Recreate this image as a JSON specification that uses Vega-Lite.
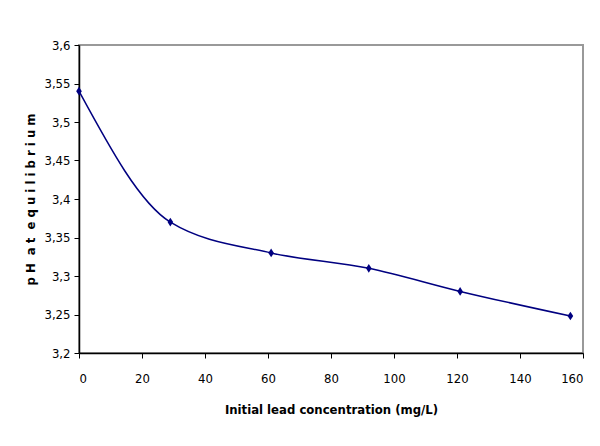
{
  "$schema": "https://vega.github.io/schema/vega-lite/v6.json",
  "width": 504,
  "height": 308,
  "autosize": {"type": "none"},
  "padding": {"left": 79, "top": 45, "right": 17, "bottom": 93},
  "background": "white",
  "data": {"values": [
    {"conc": 0, "ph": 3.54},
    {"conc": 29, "ph": 3.37},
    {"conc": 61, "ph": 3.33},
    {"conc": 92, "ph": 3.31},
    {"conc": 121, "ph": 3.28},
    {"conc": 156, "ph": 3.248}
  ]},
  "config": {
    "view": {"stroke": "#999999", "strokeWidth": 2},
    "font": "DejaVu Sans Condensed, Liberation Sans, sans-serif",
    "axis": {
      "grid": false,
      "domainColor": "#000000",
      "domainWidth": 1.5,
      "tickColor": "#000000",
      "tickSize": 5,
      "labelFont": "DejaVu Sans Condensed, Liberation Sans, sans-serif",
      "labelFontSize": 13,
      "labelColor": "#000000",
      "titleFont": "DejaVu Sans Condensed, Liberation Sans, sans-serif",
      "titleFontWeight": "bold",
      "titleFontSize": 13,
      "titleColor": "#000000"
    }
  },
  "encoding": {
    "x": {
      "field": "conc",
      "type": "quantitative",
      "scale": {"domain": [0, 160], "nice": false},
      "axis": {
        "values": [0, 20, 40, 60, 80, 100, 120, 140, 160],
        "labelPadding": 14,
        "title": "Initial lead concentration (mg/L)",
        "titlePadding": 18
      }
    },
    "y": {
      "field": "ph",
      "type": "quantitative",
      "scale": {"domain": [3.2, 3.6], "nice": false, "zero": false},
      "axis": {
        "values": [3.2, 3.25, 3.3, 3.35, 3.4, 3.45, 3.5, 3.55, 3.6],
        "labelExpr": "replace(toString(round(datum.value*100)/100), '.', ',')",
        "labelPadding": 4,
        "title": "p H\u00a0 a t\u00a0 e q u i l i b r i u m",
        "titlePadding": 6
      }
    }
  },
  "layer": [
    {
      "mark": {"type": "line", "interpolate": "monotone", "color": "#000080", "strokeWidth": 1.5}
    },
    {
      "mark": {"type": "point", "shape": "M0,-1L0.65,0L0,1L-0.65,0Z", "filled": true, "opacity": 1, "color": "#000080", "size": 75}
    }
  ]
}
